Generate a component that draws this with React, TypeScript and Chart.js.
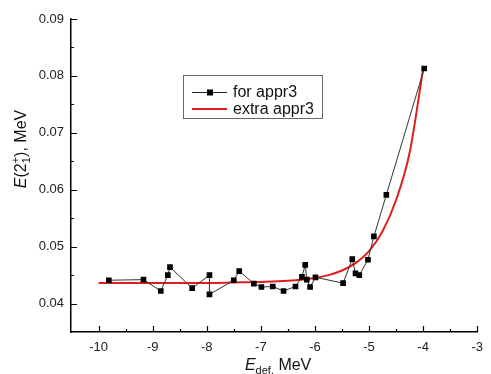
import { useEffect, useRef } from "react";
import { Chart, registerables } from "chart.js";

Chart.register(...registerables);

// ---- data ----
const forX = [-9.81, -9.17, -8.85, -8.72, -8.68, -8.27, -7.95, -7.95, -7.5, -7.4, -7.13, -6.99, -6.78, -6.58, -6.36, -6.24, -6.18, -6.15, -6.09, -5.99, -5.48, -5.31, -5.25, -5.18, -5.02, -4.91, -4.68, -3.98];
const forY = [0.0441, 0.0442, 0.0422, 0.045, 0.0464, 0.0427, 0.045, 0.0416, 0.0441, 0.0457, 0.0435, 0.0429, 0.043, 0.0422, 0.043, 0.0447, 0.0468, 0.0442, 0.0429, 0.0446, 0.0436, 0.0478, 0.0453, 0.045, 0.0477, 0.0518, 0.0591, 0.0813];

const extraX = [-10, -9, -8, -7.5, -7, -6.5, -6, -5.75, -5.5, -5.25, -5, -4.75, -4.5, -4.25, -4];
const extraY = [0.0436, 0.0436, 0.0436, 0.0437, 0.0438, 0.044, 0.0445, 0.045, 0.0458, 0.0471, 0.0492, 0.0527, 0.0582, 0.0665, 0.0812];

const xMajorTicks = [-10, -9, -8, -7, -6, -5, -4, -3];
const xMinorTicks = [-9.5, -8.5, -7.5, -6.5, -5.5, -4.5, -3.5];
const yMajorTicks = [0.04, 0.05, 0.06, 0.07, 0.08, 0.09];
const yMinorTicks = [0.045, 0.055, 0.065, 0.075, 0.085];

const seriesNames = ["for appr3", "extra appr3"];
const FONT = "'Liberation Sans', Arial, sans-serif";
const RED = "#e01e1e";

const decorPlugin = {
  id: "decor",
  afterDraw(chart: any) {
    const ctx = chart.ctx as CanvasRenderingContext2D;
    const xs = chart.scales.x;
    const ys = chart.scales.y;
    const a = chart.chartArea;
    ctx.save();
    // inward ticks
    ctx.strokeStyle = "#000";
    ctx.lineWidth = 1.2;
    ctx.beginPath();
    xMajorTicks.forEach((v) => {
      const p = Math.round(xs.getPixelForValue(v)) + 0.5;
      ctx.moveTo(p, a.bottom);
      ctx.lineTo(p, a.bottom - 6);
    });
    xMinorTicks.forEach((v) => {
      const p = Math.round(xs.getPixelForValue(v)) + 0.5;
      ctx.moveTo(p, a.bottom);
      ctx.lineTo(p, a.bottom - 3);
    });
    yMajorTicks.forEach((v) => {
      const p = Math.round(ys.getPixelForValue(v)) + 0.5;
      ctx.moveTo(a.left, p);
      ctx.lineTo(a.left + 6, p);
    });
    yMinorTicks.forEach((v) => {
      const p = Math.round(ys.getPixelForValue(v)) + 0.5;
      ctx.moveTo(a.left, p);
      ctx.lineTo(a.left + 3, p);
    });
    ctx.stroke();

    // x axis title: E_def, MeV
    ctx.fillStyle = "#111";
    ctx.textBaseline = "alphabetic";
    ctx.textAlign = "left";
    const big = `16px ${FONT}`;
    const bigI = `italic 16px ${FONT}`;
    const small = `11px ${FONT}`;
    ctx.font = bigI;
    const wE = ctx.measureText("E").width;
    ctx.font = small;
    const wSub = ctx.measureText("def,").width;
    ctx.font = big;
    const wRest = ctx.measureText(" MeV").width;
    const total = wE + wSub + wRest;
    let sx = (a.left + a.right) / 2 + 4 - total / 2;
    const by = 370;
    ctx.font = bigI;
    ctx.fillText("E", sx, by);
    sx += wE;
    ctx.font = small;
    ctx.fillText("def,", sx, by + 4);
    sx += wSub;
    ctx.font = big;
    ctx.fillText(" MeV", sx, by);

    // y axis title: E(2_1^+), MeV
    ctx.save();
    ctx.translate(26, 149);
    ctx.rotate(-Math.PI / 2);
    ctx.font = bigI;
    const w1 = ctx.measureText("E").width;
    ctx.font = big;
    const w2 = ctx.measureText("(2").width;
    ctx.font = small;
    const w3 = Math.max(ctx.measureText("1").width, ctx.measureText("+").width);
    ctx.font = big;
    const w4 = ctx.measureText("), MeV").width;
    const tot = w1 + w2 + w3 + w4;
    let tx = -tot / 2;
    ctx.font = bigI;
    ctx.fillText("E", tx, 0);
    tx += w1;
    ctx.font = big;
    ctx.fillText("(2", tx, 0);
    tx += w2;
    ctx.font = small;
    ctx.fillText("+", tx, -7);
    ctx.fillText("1", tx, 4);
    tx += w3;
    ctx.font = big;
    ctx.fillText("), MeV", tx, 0);
    ctx.restore();

    // legend
    const lx = 183, ly = 75, lw = 139, lh = 43;
    ctx.fillStyle = "#fff";
    ctx.fillRect(lx, ly, lw, lh);
    ctx.strokeStyle = "#666";
    ctx.lineWidth = 1;
    ctx.strokeRect(lx + 0.5, ly + 0.5, lw, lh);
    const rows = [92, 109];
    // row 1
    ctx.strokeStyle = "#222";
    ctx.lineWidth = 1;
    ctx.beginPath();
    ctx.moveTo(192, rows[0] + 0.5);
    ctx.lineTo(227, rows[0] + 0.5);
    ctx.stroke();
    ctx.fillStyle = "#000";
    ctx.fillRect(207, rows[0] - 2.5, 6, 6);
    // row 2
    ctx.strokeStyle = RED;
    ctx.lineWidth = 2;
    ctx.beginPath();
    ctx.moveTo(192, rows[1]);
    ctx.lineTo(227, rows[1]);
    ctx.stroke();
    ctx.fillStyle = "#111";
    ctx.font = `16px ${FONT}`;
    ctx.textBaseline = "middle";
    ctx.fillText(seriesNames[0], 233, rows[0] + 1);
    ctx.fillText(seriesNames[1], 233, rows[1] + 1);
    ctx.restore();
  },
};

export default function App() {
  const ref = useRef<HTMLCanvasElement>(null);
  useEffect(() => {
    const chart = new Chart(ref.current!, {
      type: "line",
      data: {
        datasets: [
          {
            label: seriesNames[0],
            data: forX.map((x, i) => ({ x, y: forY[i] })),
            borderColor: "#333",
            borderWidth: 1,
            pointStyle: "rect",
            pointRadius: 4,
            pointBackgroundColor: "#000",
            pointBorderColor: "#000",
            pointBorderWidth: 0,
            fill: false,
          },
          {
            label: seriesNames[1],
            data: extraX.map((x, i) => ({ x, y: extraY[i] })),
            borderColor: RED,
            borderWidth: 2,
            pointRadius: 0,
            cubicInterpolationMode: "monotone",
            fill: false,
          },
        ],
      },
      options: {
        responsive: false,
        animation: false,
        devicePixelRatio: 1,
        layout: { padding: { left: 0, top: 19, right: 7, bottom: 0 } },
        plugins: { legend: { display: false }, tooltip: { enabled: false } },
        scales: {
          x: {
            type: "linear",
            min: -10.51,
            max: -3,
            afterBuildTicks: (s: any) => {
              s.ticks = xMajorTicks.map((v) => ({ value: v }));
            },
            afterFit: (s: any) => {
              s.height = 42;
            },
            grid: { display: true, drawOnChartArea: false, drawTicks: false },
            border: { display: true, color: "#000", width: 1.5 },
            ticks: {
              padding: 8,
              color: "#222",
              font: { family: FONT, size: 13 },
              maxRotation: 0,
              callback: (v: any) => String(v),
            },
          },
          y: {
            type: "linear",
            min: 0.035,
            max: 0.09,
            afterBuildTicks: (s: any) => {
              s.ticks = yMajorTicks.map((v) => ({ value: v }));
            },
            afterFit: (s: any) => {
              s.width = 71;
            },
            grid: { display: true, drawOnChartArea: false, drawTicks: false },
            border: { display: true, color: "#000", width: 1.5 },
            ticks: {
              padding: 7,
              color: "#222",
              font: { family: FONT, size: 13 },
              callback: (v: any) => Number(v).toFixed(2),
            },
          },
        },
      },
      plugins: [decorPlugin],
    } as any);
    return () => chart.destroy();
  }, []);
  return (
    <div style={{ position: "fixed", left: 0, top: 0, width: 491, height: 374, background: "#fff" }}>
      <canvas ref={ref} width={491} height={374} style={{ width: 491, height: 374, display: "block" }} />
    </div>
  );
}
